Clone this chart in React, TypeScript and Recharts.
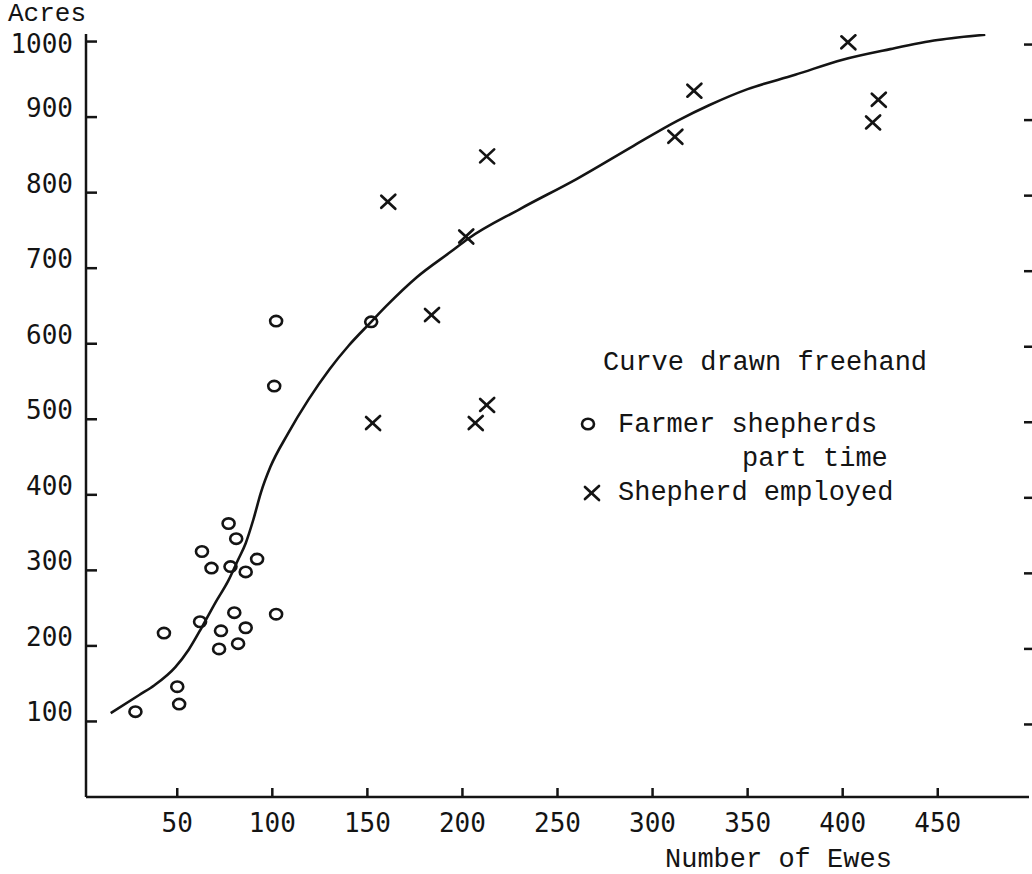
import React from 'react';
import { ComposedChart, Scatter, Line, XAxis, YAxis } from 'recharts';

// farmer shepherds (part time) - circles
const farmerEwes = [28, 43, 50, 51, 62, 63, 68, 72, 73, 77, 78, 81, 80, 82, 86, 86, 92, 102, 102, 101, 152];
const farmerAcres = [113, 217, 146, 123, 232, 325, 303, 196, 220, 362, 305, 342, 244, 203, 298, 224, 315, 242, 630, 544, 629];

// shepherd employed - crosses
const shepherdEwes = [153, 161, 184, 202, 207, 213, 213, 312, 322, 403, 416, 419];
const shepherdAcres = [495, 788, 638, 742, 495, 519, 848, 874, 935, 999, 893, 923];

// freehand curve
const curveEwes = [15, 30, 38, 49, 56, 63, 70, 77, 82, 86, 90, 94, 99, 108, 119, 130, 140, 152, 160, 176, 194, 203, 230, 260, 290, 313, 330, 350, 375, 400, 425, 450, 475];
const curveAcres = [111, 135, 148, 172, 195, 225, 257, 287, 314, 336, 367, 403, 437, 480, 526, 566, 597, 629, 650, 688, 722, 739, 778, 818, 862, 895, 916, 937, 956, 976, 990, 1002, 1009];

const xTicks = [50, 100, 150, 200, 250, 300, 350, 400, 450];
const yTicks = [100, 200, 300, 400, 500, 600, 700, 800, 900, 1000];

const zip = (xs: number[], ys: number[]) => xs.map((x, i) => ({ x, y: ys[i] }));
const farmers = zip(farmerEwes, farmerAcres);
const shepherds = zip(shepherdEwes, shepherdAcres);
const curve = zip(curveEwes, curveAcres);

const INK = '#141414';
const TYPE = '"Liberation Mono", "Courier New", monospace';
const DIGITS = '"DejaVu Sans Mono", monospace';

const Ring = (p: any) => (
  <ellipse cx={p.cx} cy={p.cy} rx={6} ry={5.2} fill="none" stroke={INK} strokeWidth={2.6} />
);

const Cross = (p: any) => (
  <g stroke={INK} strokeWidth={2.7} strokeLinecap="round">
    <line x1={p.cx - 7} y1={p.cy - 6} x2={p.cx + 7} y2={p.cy + 7} />
    <line x1={p.cx - 7} y1={p.cy + 6} x2={p.cx + 7} y2={p.cy - 7} />
  </g>
);

const YTick = (props: any) => {
  const { x, y, payload } = props;
  const lift = payload.value === 1000 ? -2 : 9;
  return (
    <g>
      <line x1={x} y1={y} x2={x + 11} y2={y} stroke={INK} strokeWidth={2.5} />
      {/* matching dash on the right-hand frame edge */}
      <line x1={1024} y1={y + 3} x2={1032} y2={y + 3} stroke={INK} strokeWidth={2.5} />
      <text x={x - 13} y={y - lift} textAnchor="end" dominantBaseline="central"
        fontFamily={DIGITS} fontSize={26} fill={INK}>{payload.value}</text>
    </g>
  );
};

const XTick = (props: any) => {
  const { x, y, payload } = props;
  return (
    <g>
      <line x1={x} y1={y} x2={x} y2={y - 9} stroke={INK} strokeWidth={2.5} />
      <text x={x} y={y + 26} textAnchor="middle" dominantBaseline="central"
        fontFamily={DIGITS} fontSize={26} fill={INK}>{payload.value}</text>
    </g>
  );
};

const Notes = () => (
  <g fontFamily={TYPE} fontSize={27} fill={INK}>
    <text x={603} y={363} dominantBaseline="central">Curve drawn freehand</text>
    <Ring cx={588} cy={424} />
    <text x={618} y={425} dominantBaseline="central">Farmer shepherds</text>
    <text x={742} y={459} dominantBaseline="central">part time</text>
    <Cross cx={592} cy={493} />
    <text x={618} y={493} dominantBaseline="central">Shepherd employed</text>
  </g>
);

export default function App() {
  return (
    <div style={{ position: 'absolute', left: 0, top: 0, width: 1032, height: 874, background: '#fff' }}>
      <ComposedChart width={1032} height={874} margin={{ top: 34, right: 3, bottom: 0, left: 0 }}>
        <XAxis
          type="number"
          dataKey="x"
          domain={[2, 498]}
          allowDataOverflow
          ticks={xTicks}
          height={77}
          tickSize={0}
          tickMargin={0}
          tickLine={false}
          axisLine={{ stroke: INK, strokeWidth: 2.5 }}
          tick={<XTick />}
          label={(p: any) => (
            <text x={p.viewBox.x + 579} y={p.viewBox.y + 63} dominantBaseline="central"
              fontFamily={TYPE} fontSize={27} fill={INK}>Number of Ewes</text>
          )}
        />
        <YAxis
          type="number"
          dataKey="y"
          domain={[0, 1010]}
          allowDataOverflow
          ticks={yTicks}
          width={86}
          tickSize={0}
          tickMargin={0}
          tickLine={false}
          axisLine={{ stroke: INK, strokeWidth: 2.5 }}
          tick={<YTick />}
          label={(p: any) => (
            <text x={p.viewBox.x + 8} y={p.viewBox.y - 20} dominantBaseline="central"
              fontFamily={TYPE} fontSize={26} fill={INK}>Acres</text>
          )}
        />
        <Line
          data={curve}
          dataKey="y"
          type="monotone"
          stroke={INK}
          strokeWidth={2.6}
          dot={false}
          activeDot={false}
          isAnimationActive={false}
        />
        <Scatter data={farmers} dataKey="y" shape={Ring} isAnimationActive={false} />
        <Scatter data={shepherds} dataKey="y" shape={Cross} isAnimationActive={false} />
        <Notes />
      </ComposedChart>
    </div>
  );
}
